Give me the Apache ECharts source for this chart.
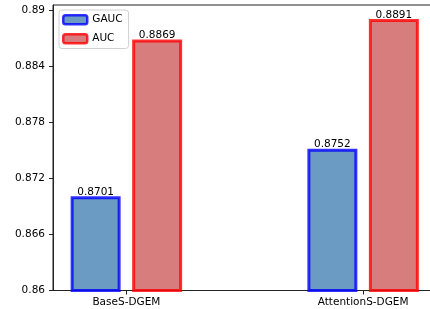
<!DOCTYPE html>
<html>
<head>
<meta charset="utf-8">
<script src="https://cdn.jsdelivr.net/npm/echarts@6/dist/echarts.min.js"></script>
<style>html,body{margin:0;padding:0;background:#fff}#c{width:430px;height:309px}</style>
</head>
<body>
<div id="c"></div>
<script>
const categories = ['BaseS-DGEM', 'AttentionS-DGEM'];
const seriesNames = ['GAUC', 'AUC'];
const gaucValues = [0.8701, 0.8752];
const aucValues = [0.8869, 0.8891];
const yTicks = [0.86, 0.866, 0.872, 0.878, 0.884, 0.89];

const FONT = 'DejaVu Sans';
const chart = echarts.init(document.getElementById('c'), null, {renderer: 'canvas'});

function toData(vals) { return vals.map((v, i) => [i, v]); }
const labelCfg = {
  show: true, position: 'top', distance: -1.5, color: '#000',
  fontFamily: FONT, fontSize: 10.5,
  formatter: p => p.value[1].toFixed(4)
};

chart.setOption({
  animation: false,
  textStyle: {fontFamily: FONT},
  grid: {left: 53, right: -6.5, top: 5, bottom: 18.5, outerBoundsMode: 'none', containLabel: false,
         show: true, borderColor: '#222', borderWidth: 1, backgroundColor: 'transparent'},
  legend: {
    data: seriesNames, left: 59, top: 10, orient: 'vertical',
    itemWidth: 24, itemHeight: 9, itemGap: 7.5,
    backgroundColor: '#fff', borderColor: '#d0d0d0', borderWidth: 1, borderRadius: 3,
    padding: [4, 6, 4, 3],
    textStyle: {fontFamily: FONT, fontSize: 10.5, color: '#000', padding: [0, 0, 0, 0]},
    itemStyle: {borderWidth: 2.5}
  },
  xAxis: {
    type: 'value', min: -0.31, max: 1.31,
    splitLine: {show: false},
    axisLine: {show: true, onZero: false, lineStyle: {color: '#222', width: 1}},
    axisTick: {show: true, length: 4, customValues: categories.map((c, i) => i), lineStyle: {color: '#222'}},
    axisLabel: {
      customValues: categories.map((c, i) => i),
      formatter: v => categories[Math.round(v)] || '',
      color: '#000', fontFamily: FONT, fontSize: 10.5, margin: 6
    }
  },
  yAxis: {
    type: 'value', min: 0.86, max: 0.8906,
    splitLine: {show: false},
    axisLine: {show: true, onZero: false, lineStyle: {color: '#222', width: 1}},
    axisTick: {show: true, length: 4, customValues: yTicks, lineStyle: {color: '#222'}},
    axisLabel: {customValues: yTicks, formatter: v => String(+v.toFixed(3)), color: '#000', fontFamily: FONT, fontSize: 10.5, margin: 8}
  },
  series: [
    {
      name: seriesNames[0], type: 'bar', data: toData(gaucValues),
      barWidth: 50, barGap: '23%',
      itemStyle: {color: 'rgba(70,130,180,0.8)', borderColor: 'rgba(0,0,255,0.8)', borderWidth: 3},
      label: labelCfg
    },
    {
      name: seriesNames[1], type: 'bar', data: toData(aucValues),
      barWidth: 50, barGap: '23%',
      itemStyle: {color: 'rgba(205,92,92,0.8)', borderColor: 'rgba(255,0,0,0.8)', borderWidth: 3},
      label: labelCfg
    }
  ]
});
</script>
</body>
</html>
